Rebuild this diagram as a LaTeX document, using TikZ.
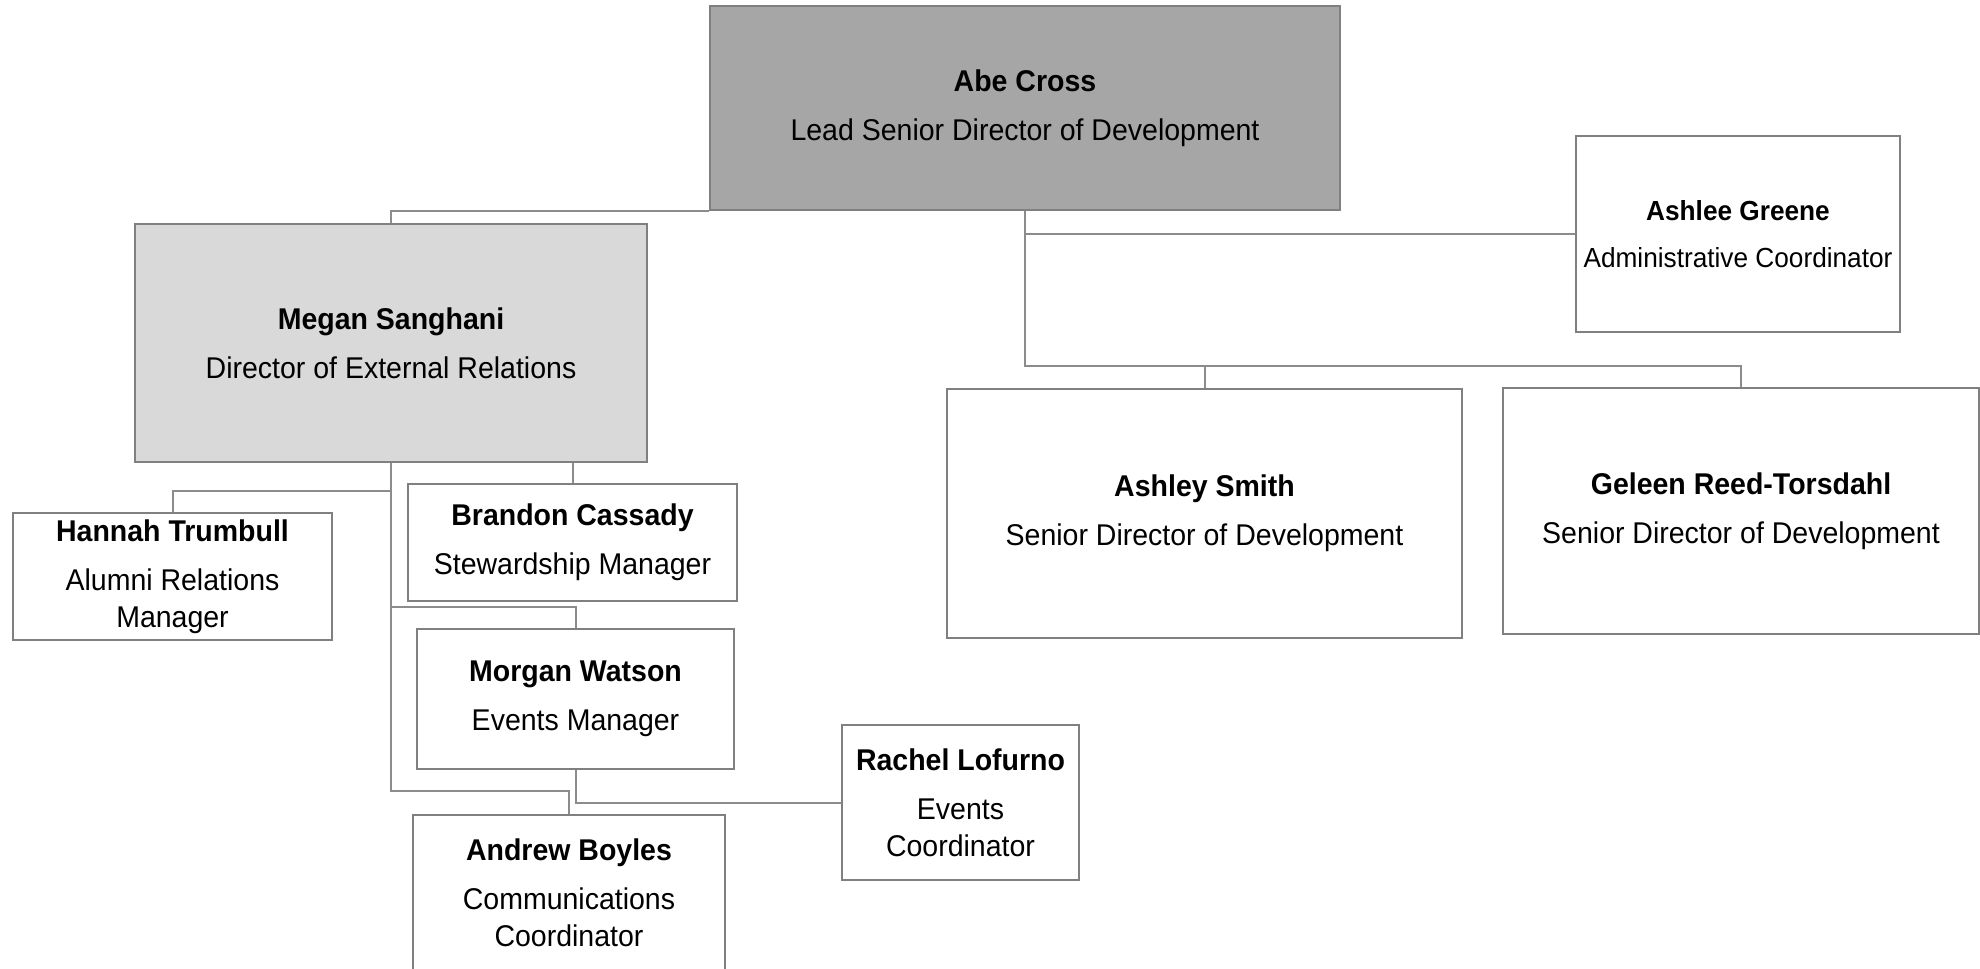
\documentclass[tikz,border=0pt]{standalone}
\usepackage{fontspec}
\setmainfont{Liberation Sans}[FakeStretch=0.95]
\definecolor{edgegray}{RGB}{128,128,128}
\definecolor{linegray}{RGB}{140,140,140}
\definecolor{darkfill}{RGB}{166,166,166}
\definecolor{lightfill}{RGB}{217,217,217}
\tikzset{
  box/.style={draw=edgegray, line width=1.5pt, fill=white, rectangle, inner sep=0pt, align=center,
    font=\fontsize{22.5}{27.75}\selectfont},
  conn/.style={draw=linegray, line width=1.5pt},
}
\newcommand{\nm}[1]{\textbf{#1}\\[9pt]}
\begin{document}
\begin{tikzpicture}[x=0.75pt, y=-0.75pt]
\useasboundingbox (0,0) rectangle (1980,968);
% boxes
\node[box, fill=darkfill, minimum width=0.75*630pt, minimum height=0.75*204pt] (abe) at (1025,108)
  {\nm{Abe Cross}Lead Senior Director of Development};
\node[box, fill=lightfill, minimum width=0.75*512pt, minimum height=0.75*238pt] (megan) at (391,343)
  {\nm{Megan Sanghani}Director of External Relations};
\node[box, minimum width=0.75*324pt, minimum height=0.75*196pt, font=\fontsize{20.7}{25.5}\selectfont] (ashlee) at (1738,234)
  {\textbf{Ashlee Greene}\\[9.75pt]Administrative Coordinator};
\node[box, minimum width=0.75*515pt, minimum height=0.75*249pt] (ashley) at (1204.5,513.5)
  {\nm{Ashley Smith}Senior Director of Development};
\node[box, minimum width=0.75*476pt, minimum height=0.75*246pt] (geleen) at (1741,511)
  {\nm{Geleen Reed-Torsdahl}Senior Director of Development};
\node[box, minimum width=0.75*319pt, minimum height=0.75*127pt] (hannah) at (172.5,576.5)
  {\nm{Hannah Trumbull}Alumni Relations\\Manager};
\node[box, minimum width=0.75*329pt, minimum height=0.75*117pt] (brandon) at (572.5,542.5)
  {\nm{Brandon Cassady}Stewardship Manager};
\node[box, minimum width=0.75*317pt, minimum height=0.75*140pt] (morgan) at (575.5,699)
  {\nm{Morgan Watson}Events Manager};
\node[box, minimum width=0.75*237pt, minimum height=0.75*155pt] (rachel) at (960.5,802.5)
  {\nm{Rachel Lofurno}Events\\Coordinator};
\node[box, minimum width=0.75*312pt, minimum height=0.75*155pt] (andrew) at (569,892.5)
  {\nm{Andrew Boyles}Communications\\Coordinator};
% bus coordinates
\coordinate (abus) at (abe.south |- 0,366);
\coordinate (mh) at (megan.south |- 0,491);
\coordinate (mm) at (megan.south |- 0,607);
\coordinate (ma) at (megan.south |- 0,791);
% connectors
\draw[conn] (abe.south west) -| (megan.north);
\draw[conn] (abe.south) |- (ashlee.west);
\draw[conn] (abe.south) -- (abus) -| (ashley.north);
\draw[conn] (abus) -| (geleen.north);
\draw[conn] (megan.south) -- (mh) -| (hannah.north);
\draw[conn] (megan.south -| brandon.north) -- (brandon.north);
\draw[conn] (mh) -- (mm) -| (morgan.north);
\draw[conn] (mm) -- (ma) -| (andrew.north);
\draw[conn] (morgan.south) |- (rachel.west);
\end{tikzpicture}
\end{document}
